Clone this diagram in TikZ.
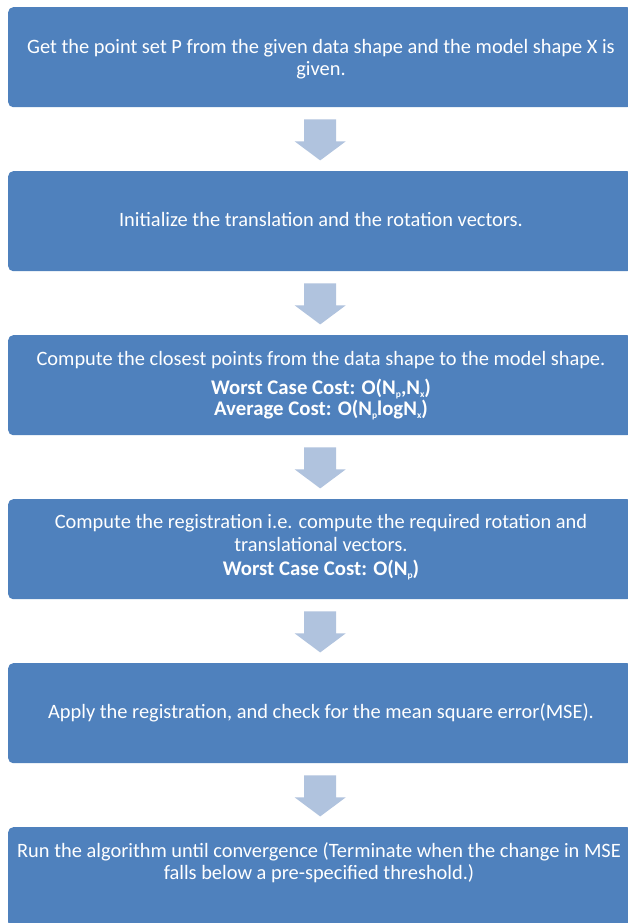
\documentclass[tikz,border=0pt]{standalone}
\usepackage{fontspec}
\setmainfont{Carlito}
\usetikzlibrary{calc}
\definecolor{boxblue}{HTML}{4F81BD}
\definecolor{arrowblue}{HTML}{B0C3DE}
\newcommand{\mysub}[1]{\raisebox{-0.3ex}{\fontsize{9.5}{9.5}\selectfont #1}}
\tikzset{
  stepbox/.style={fill=boxblue, rounded corners=5pt, minimum width=624pt, minimum height=100pt, anchor=north west, inner sep=0pt},
  txt/.style={text=white, font=\fontsize{20.4}{22}\selectfont, anchor=base, inner sep=0pt},
  btxt/.style={text=white, font=\fontsize{20.8}{22}\selectfont\bfseries, anchor=base, inner sep=0pt},
  blockarrow/.style={fill=arrowblue}
}
\begin{document}
\begin{tikzpicture}[x=1pt,y=-1pt]
\clip (0,0) rectangle (628,923);
\fill[white] (0,0) rectangle (628,923);
\node[stepbox] (b1) at (8,7) {};
\node[stepbox] (b2) at (8,171) {};
\node[stepbox] (b3) at (8,335) {};
\node[stepbox] (b4) at (8,499) {};
\node[stepbox] (b5) at (8,663) {};
\node[stepbox] (b6) at (8,827) {};
\foreach \a in {b1,b2,b3,b4,b5}{
  \fill[blockarrow] ($(\a.south)+(-16,12)$) -- ($(\a.south)+(16,12)$) -- ($(\a.south)+(16,34)$)
    -- ($(\a.south)+(25.5,34)$) -- ($(\a.south)+(0,53)$) -- ($(\a.south)+(-25.5,34)$)
    -- ($(\a.south)+(-16,34)$) -- cycle;
}
\node[txt] (t1a) at (321,54) {Get the point set P from the given data shape and the model shape X is};
\node[txt] (t1b) at (321,76) {given.};
\node[txt] (t2) at (321,226) {Initialize the translation and the rotation vectors.};
\node[txt] (t3a) at (321,365) {Compute the closest points from the data shape to the model shape.};
\node[btxt] (t3b) at (321,394) {Worst Case Cost: O(N\mysub{p},N\mysub{x})};
\node[btxt] (t3c) at (321,415) {Average Cost: O(N\mysub{p}logN\mysub{x})};
\node[txt] (t4a) at (321,528) {Compute the registration i.e. compute the required rotation and};
\node[txt] (t4b) at (321,551) {translational vectors.};
\node[btxt] (t4c) at (321,575) {Worst Case Cost: O(N\mysub{p})};
\node[txt] (t5) at (321,718) {Apply the registration, and check for the mean square error(MSE).};
\node[txt] (t6a) at (319,857) {Run the algorithm until convergence (Terminate when the change in MSE};
\node[txt] (t6b) at (319,879) {falls below a pre-specified threshold.)};
\end{tikzpicture}
\end{document}
